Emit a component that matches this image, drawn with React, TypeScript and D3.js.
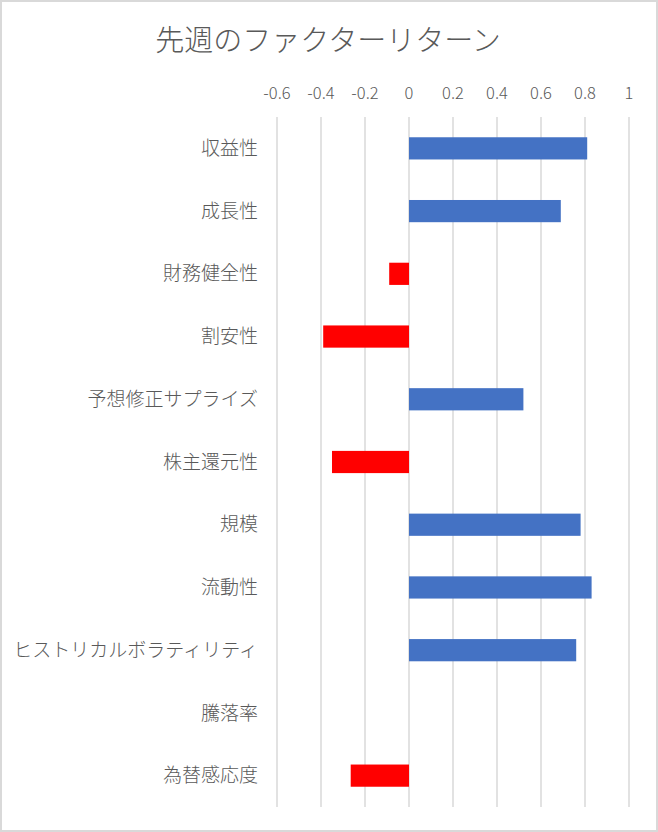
import * as d3 from "d3";

const categories = [
  "収益性",
  "成長性",
  "財務健全性",
  "割安性",
  "予想修正サプライズ",
  "株主還元性",
  "規模",
  "流動性",
  "ヒストリカルボラティリティ",
  "騰落率",
  "為替感応度",
];
const values = [0.81, 0.69, -0.09, -0.39, 0.52, -0.35, 0.78, 0.83, 0.76, 0, -0.265];
const ticks = [-0.6, -0.4, -0.2, 0, 0.2, 0.4, 0.6, 0.8, 1];

const width = 658;
const height = 832;
const font = "'Noto Sans CJK JP', 'Noto Sans', sans-serif";
const textColor = "#595959";

const App = () => {
  // plot area
  const margin = { top: 117, right: 29, bottom: 25, left: 277 };
  const x = d3.scaleLinear().domain([-0.6, 1]).range([margin.left, width - margin.right]);
  const y = d3
    .scaleBand()
    .domain(categories)
    .range([margin.top, height - margin.bottom])
    .paddingInner(0.646)
    .paddingOuter(0.323);

  return (
    <svg
      width={width}
      height={height}
      viewBox={`0 0 ${width} ${height}`}
      style={{ position: "absolute", left: 0, top: 0 }}
      fontFamily={font}
    >
      <rect x={1} y={1} width={width - 2} height={height - 2} fill="#fff" stroke="#d9d9d9" strokeWidth={2} />

      <text x={328} y={51} textAnchor="middle" fontSize={29} fontWeight={300} fill={textColor}>
        先週のファクターリターン
      </text>

      {/* gridlines + tick labels on top */}
      {ticks.map((t) => (
        <g key={t}>
          <line
            x1={x(t)}
            x2={x(t)}
            y1={margin.top}
            y2={height - margin.bottom}
            stroke="#d9d9d9"
            strokeWidth={1.5}
          />
          <text x={x(t)} y={99} textAnchor="middle" fontSize={16.5} fontWeight={300} fill={textColor}>
            {t}
          </text>
        </g>
      ))}

      {/* bars */}
      {categories.map((c, i) => {
        const v = values[i];
        if (v === 0) return null;
        const x0 = x(Math.min(0, v));
        const x1 = x(Math.max(0, v));
        return (
          <rect
            key={c}
            x={x0}
            y={y(c)}
            width={x1 - x0}
            height={y.bandwidth()}
            fill={v >= 0 ? "#4472C4" : "#FF0000"}
          />
        );
      })}

      {/* category labels */}
      {categories.map((c) => (
        <text
          key={c}
          x={258}
          y={(y(c) ?? 0) + y.bandwidth() / 2}
          dy="0.35em"
          textAnchor="end"
          fontSize={19}
          fontWeight={300}
          fill={textColor}
        >
          {c}
        </text>
      ))}
    </svg>
  );
};

export default App;
